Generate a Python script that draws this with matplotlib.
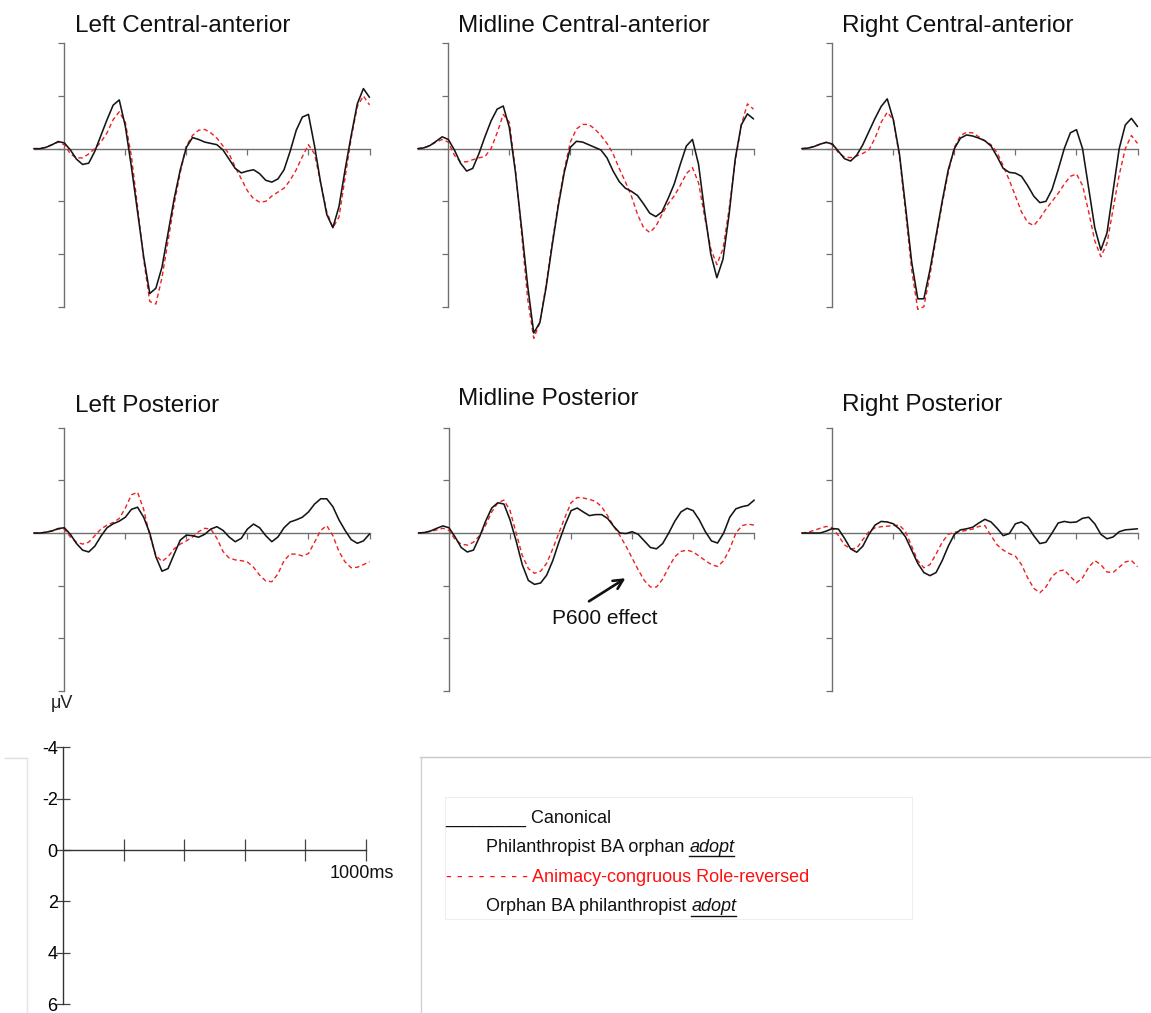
import numpy as np
import matplotlib
matplotlib.use('Agg')
import matplotlib.pyplot as plt
from matplotlib import font_manager
from matplotlib.lines import Line2D
from matplotlib.patches import Rectangle

plt.rcParams['font.family'] = ['Liberation Sans', 'DejaVu Sans']

# ---------------- data (μV, negative plotted upward) ----------------
times = [-100, -80, -60, -40, -20, 0, 20, 40, 60, 80,
         100, 120, 140, 160, 180, 200, 220, 240, 260, 280,
         300, 320, 340, 360, 380, 400, 420, 440, 460, 480,
         500, 520, 540, 560, 580, 600, 620, 640, 660, 680,
         700, 720, 740, 760, 780, 800, 820, 840, 860, 880,
         900, 920, 940, 960, 980, 1000]

lca_canonical = [0, 0, -0.05, -0.15, -0.27, -0.22, 0.05, 0.4, 0.6, 0.55,
                 0.1, -0.5, -1.1, -1.65, -1.85, -0.85, 0.7, 2.4, 4.1, 5.5,
                 5.3, 4.5, 3.2, 1.9, 0.8, -0.05, -0.42, -0.35, -0.25, -0.2,
                 -0.15, 0.05, 0.4, 0.75, 0.92, 0.85, 0.8, 0.95, 1.2, 1.27,
                 1.15, 0.8, 0.1, -0.7, -1.2, -1.3, -0.1, 1.3, 2.5, 3.0,
                 2.2, 0.8, -0.5, -1.7, -2.28, -1.95]
lca_reversed = [0, 0, -0.05, -0.15, -0.25, -0.15, 0.2, 0.35, 0.35, 0.2,
                0.0, -0.25, -0.6, -1.1, -1.4, -1.0, 0.3, 2.2, 4.2, 5.8,
                5.9, 4.9, 3.5, 2.1, 0.9, -0.1, -0.5, -0.7, -0.73, -0.6,
                -0.4, -0.1, 0.2, 0.7, 1.15, 1.6, 1.9, 2.03, 2.0, 1.8,
                1.65, 1.5, 1.2, 0.8, 0.3, -0.15, 0.2, 1.3, 2.4, 3.0,
                2.6, 1.1, -0.4, -1.6, -2.0, -1.66]

mca_canonical = [0, -0.03, -0.12, -0.28, -0.45, -0.35, 0.05, 0.55, 0.85, 0.75,
                 0.2, -0.45, -1.05, -1.5, -1.62, -0.8, 0.9, 3.0, 5.2, 7.0,
                 6.6, 5.3, 3.7, 2.2, 0.9, -0.05, -0.28, -0.25, -0.15, -0.05,
                 0.05, 0.35, 0.85, 1.25, 1.5, 1.62, 1.78, 2.1, 2.45, 2.58,
                 2.4, 1.9, 1.35, 0.6, -0.1, -0.35, 0.6, 2.4, 4.0, 4.9,
                 4.2, 2.5, 0.4, -0.9, -1.32, -1.13]
mca_reversed = [0, -0.03, -0.12, -0.25, -0.35, -0.25, 0.25, 0.5, 0.5, 0.42,
                0.35, 0.3, 0.0, -0.6, -1.3, -1.0, 0.8, 3.2, 5.7, 7.2,
                6.6, 5.2, 3.6, 2.1, 0.8, -0.25, -0.75, -0.92, -0.92, -0.75,
                -0.5, -0.2, 0.2, 0.75, 1.25, 1.8, 2.5, 3.0, 3.18, 2.95,
                2.5, 2.1, 1.8, 1.4, 0.95, 0.72, 1.3, 2.6, 3.8, 4.4,
                3.8, 2.3, 0.5, -0.9, -1.7, -1.5]

rca_canonical = [0, -0.02, -0.08, -0.17, -0.24, -0.18, 0.1, 0.38, 0.47, 0.25,
                 -0.15, -0.65, -1.15, -1.6, -1.89, -1.1, 0.2, 2.2, 4.3, 5.7,
                 5.7, 4.6, 3.3, 2.0, 0.8, 0.0, -0.4, -0.52, -0.48, -0.4,
                 -0.3, -0.1, 0.3, 0.75, 0.9, 0.93, 1.05, 1.4, 1.8, 2.05,
                 2.0, 1.55, 0.8, 0.0, -0.6, -0.72, 0.0, 1.5, 3.0, 3.85,
                 3.2, 1.6, 0.0, -0.9, -1.15, -0.84]
rca_reversed = [0, -0.02, -0.08, -0.17, -0.24, -0.15, 0.15, 0.32, 0.34, 0.28,
                0.18, 0.05, -0.4, -1.0, -1.38, -1.1, 0.3, 2.4, 4.6, 6.1,
                6.0, 4.8, 3.4, 2.1, 0.9, -0.05, -0.5, -0.62, -0.6, -0.45,
                -0.3, -0.15, 0.15, 0.65, 1.2, 1.8, 2.4, 2.8, 2.92, 2.65,
                2.3, 2.0, 1.7, 1.35, 1.05, 0.96, 1.4, 2.4, 3.5, 4.1,
                3.6, 2.3, 1.0, 0.0, -0.5, -0.2]

lp_canonical = [0, 0, -0.03, -0.08, -0.17, -0.2, 0.05, 0.4, 0.65, 0.72,
                0.5, 0.12, -0.2, -0.35, -0.45, -0.6, -0.9, -0.98, -0.6, 0.0,
                0.9, 1.45, 1.35, 0.8, 0.27, 0.08, 0.1, 0.16, 0.05, -0.15,
                -0.24, -0.1, 0.15, 0.33, 0.2, -0.15, -0.34, -0.2, 0.1, 0.33,
                0.15, -0.2, -0.42, -0.5, -0.6, -0.8, -1.1, -1.3, -1.3, -1.0,
                -0.5, -0.1, 0.25, 0.39, 0.3, 0.04]
lp_reversed = [0, 0, -0.03, -0.08, -0.15, -0.15, 0.15, 0.35, 0.42, 0.35,
               0.1, -0.15, -0.3, -0.4, -0.55, -0.95, -1.45, -1.55, -0.9, 0.1,
               0.85, 1.08, 0.9, 0.6, 0.42, 0.3, 0.15, -0.05, -0.18, -0.15,
               0.2, 0.7, 0.95, 1.02, 1.05, 1.1, 1.3, 1.6, 1.82, 1.85,
               1.55, 1.05, 0.8, 0.8, 0.87, 0.78, 0.35, -0.1, -0.28, 0.1,
               0.7, 1.1, 1.32, 1.3, 1.2, 1.09]

mp_canonical = [0, -0.02, -0.08, -0.18, -0.27, -0.2, 0.15, 0.55, 0.72, 0.65,
                0.15, -0.45, -0.95, -1.15, -1.1, -0.5, 0.3, 1.2, 1.8, 1.95,
                1.9, 1.6, 1.05, 0.35, -0.3, -0.85, -0.95, -0.8, -0.66, -0.7,
                -0.7, -0.55, -0.25, 0.0, 0.02, -0.05, 0.05, 0.3, 0.55, 0.6,
                0.4, 0.0, -0.45, -0.8, -0.94, -0.85, -0.5, -0.05, 0.3, 0.38,
                0.0, -0.6, -0.92, -1.0, -1.05, -1.25]
mp_reversed = [0, -0.02, -0.06, -0.12, -0.18, -0.1, 0.25, 0.42, 0.46, 0.35,
               0.1, -0.3, -0.8, -1.15, -1.25, -0.85, 0.0, 0.85, 1.35, 1.53,
               1.45, 1.15, 0.6, 0.0, -0.6, -1.15, -1.35, -1.33, -1.28, -1.2,
               -1.0, -0.65, -0.25, 0.1, 0.5, 0.95, 1.4, 1.8, 2.05, 2.05,
               1.75, 1.3, 0.9, 0.7, 0.65, 0.72, 0.88, 1.05, 1.2, 1.27,
               1.05, 0.6, 0.0, -0.28, -0.34, -0.3]

rp_canonical = [0, 0, 0, 0, -0.07, -0.17, -0.15, 0.2, 0.6, 0.73,
                0.5, 0.05, -0.3, -0.44, -0.42, -0.35, -0.15, 0.15, 0.65, 1.15,
                1.5, 1.62, 1.5, 1.05, 0.5, 0.05, -0.12, -0.16, -0.22, -0.38,
                -0.52, -0.42, -0.18, 0.1, 0.02, -0.35, -0.42, -0.25, 0.1, 0.4,
                0.35, 0.0, -0.38, -0.44, -0.4, -0.42, -0.56, -0.6, -0.35, 0.05,
                0.22, 0.15, -0.05, -0.12, -0.14, -0.16]
rp_reversed = [0, -0.03, -0.1, -0.18, -0.25, -0.2, 0.1, 0.45, 0.6, 0.58,
               0.25, -0.05, -0.2, -0.24, -0.26, -0.28, -0.3, -0.05, 0.5, 1.05,
               1.32, 1.2, 0.8, 0.35, 0.05, -0.03, -0.06, -0.1, -0.15, -0.25,
               -0.28, 0.1, 0.45, 0.65, 0.78, 0.88, 1.2, 1.7, 2.1, 2.27,
               2.05, 1.65, 1.45, 1.4, 1.65, 1.89, 1.7, 1.3, 1.05, 1.2,
               1.48, 1.5, 1.3, 1.1, 1.04, 1.28]

panel_titles = ["Left Central-anterior", "Midline Central-anterior", "Right Central-anterior",
                "Left Posterior", "Midline Posterior", "Right Posterior"]
y_ticks = [-4, -2, 0, 2, 4, 6]
x_ticks = [200, 400, 600, 800, 1000]

# ---------------- layout helpers ----------------
W, H = 1151, 1013
fig = plt.figure(figsize=(W / 100, H / 100), dpi=100)


def ax_px(left, right, top, bottom):
    return fig.add_axes([left / W, 1 - bottom / H, (right - left) / W, (bottom - top) / H])


def ftext(x, y, s, **kw):
    return fig.text(x / W, 1 - y / H, s, **kw)


AXC = '#707070'
BLACK = '#151515'
RED = '#ee2020'

series = [(lca_canonical, lca_reversed), (mca_canonical, mca_reversed), (rca_canonical, rca_reversed),
          (lp_canonical, lp_reversed), (mp_canonical, mp_reversed), (rp_canonical, rp_reversed)]
t0_px = [64.3, 448.3, 832.3, 64.3, 449.0, 832.3]
rows = [(43.3, 306.7), (43.3, 306.7), (43.3, 306.7), (427.7, 691.0), (427.7, 691.0), (427.7, 691.0)]
title_pos = [(75, 32), (457.5, 32), (842, 32), (75, 411.5), (457.5, 405), (842, 411.5)]
PX_PER_MS = 0.3052

axes = []
for i in range(6):
    t0 = t0_px[i]
    top, bot = rows[i]
    ax = ax_px(t0 - 100 * PX_PER_MS, t0 + 1000 * PX_PER_MS, top, bot)
    ax.set_xlim(-100, 1000)
    ax.set_ylim(6, -4)
    ax.patch.set_visible(False)
    for s in ['top', 'right']:
        ax.spines[s].set_visible(False)
    ax.spines['left'].set_position(('data', 0))
    ax.spines['bottom'].set_position(('data', 0))
    for s in ['left', 'bottom']:
        ax.spines[s].set_color(AXC)
        ax.spines[s].set_linewidth(1.0)
    ax.set_xticks(x_ticks)
    ax.set_yticks(y_ticks)
    ax.tick_params(axis='x', direction='out', length=4, width=0.9, color=AXC, labelbottom=False)
    ax.tick_params(axis='y', direction='out', length=4.5, width=0.9, color=AXC, labelleft=False)
    canon, rev = series[i]
    ax.plot(times, rev, color=RED, lw=1.0, ls=(0, (3.2, 2.2)), clip_on=False, zorder=3,
            dash_joinstyle='round', dash_capstyle='butt')
    ax.plot(times, canon, color=BLACK, lw=1.15, clip_on=False, zorder=4,
            solid_joinstyle='round', solid_capstyle='round')
    tx, ty = title_pos[i]
    ftext(tx, ty, panel_titles[i], fontsize=17.5, va='baseline', ha='left', color='#111111')
    axes.append(ax)

# P600 annotation in Midline Posterior
axes[4].annotate('', xy=(586, 1.66), xytext=(451, 2.65),
                 arrowprops=dict(arrowstyle='->', lw=1.9, color='#111111', mutation_scale=17),
                 annotation_clip=False)
ftext(605, 624, 'P600 effect', fontsize=15, ha='center', va='baseline', color='#111111')

# μV label
ftext(62, 703, 'μV', fontsize=13, ha='center', va='center', color='#222222')

# ---------------- scale axis ----------------
sax = ax_px(63.3, 365.7, 747.3, 1004.3)
sax.set_xlim(0, 1000)
sax.set_ylim(6, -4)
sax.patch.set_visible(False)
for s in ['top', 'right']:
    sax.spines[s].set_visible(False)
sax.spines['bottom'].set_position(('data', 0))
for s in ['left', 'bottom']:
    sax.spines[s].set_color('#333333')
    sax.spines[s].set_linewidth(1.0)
sax.set_xticks(x_ticks)
sax.set_xticklabels([])
sax.set_yticks(y_ticks)
sax.set_yticklabels([str(v) for v in y_ticks], fontsize=13)
sax.tick_params(axis='x', direction='inout', length=16, width=0.9, color='#444444')
sax.tick_params(axis='y', direction='inout', length=10, width=0.9, color='#444444', pad=-1)
ftext(362, 878, '1000ms', fontsize=13, ha='center', va='baseline', color='#111111')

# ---------------- frame lines ----------------
fig.add_artist(Line2D([420 / W, 1.0], [1 - 757.3 / H] * 2, transform=fig.transFigure, color='#c8c8c8', lw=1.0))
fig.add_artist(Line2D([421 / W] * 2, [1 - 757.3 / H, 0], transform=fig.transFigure, color='#d0d0d0', lw=1.0))
fig.add_artist(Line2D([5 / W, 27 / W], [1 - 757.7 / H] * 2, transform=fig.transFigure, color='#dcdcdc', lw=1.0))
fig.add_artist(Line2D([27 / W] * 2, [1 - 757.7 / H, 0], transform=fig.transFigure, color='#e4e4e4', lw=1.0))

# ---------------- legend ----------------
fig.add_artist(Rectangle((445 / W, 1 - 919.3 / H), (912 - 445) / W, (919.3 - 796.7) / H,
                         transform=fig.transFigure, fill=False, edgecolor='#eeeeee', lw=0.8))


def has_font(name):
    try:
        font_manager.findfont(font_manager.FontProperties(family=name), fallback_to_default=False)
        return True
    except Exception:
        return False


if has_font('Liberation Sans Narrow'):
    LEG_FAM = ['Liberation Sans Narrow', 'DejaVu Sans']
    LEG_SIZE = 15.3
else:
    LEG_FAM = ['Liberation Sans', 'DejaVu Sans']
    LEG_SIZE = 13.0

legend_line1 = "________ Canonical"
legend_line2 = "Philanthropist BA orphan "
legend_line3 = "- - - - - - - - Animacy-congruous Role-reversed"
legend_line4 = "Orphan BA philanthropist "
legend_verb = "adopt"

ftext(445, 822.7, legend_line1, family=LEG_FAM, fontsize=LEG_SIZE, va='baseline', color='#111111')
ftext(446, 881.7, legend_line3, family=LEG_FAM, fontsize=LEG_SIZE, va='baseline', color='#ff1010')

renderer = fig.canvas.get_renderer()
for txt, base in [(legend_line2, 851.7), (legend_line4, 911.0)]:
    t1 = ftext(486, base, txt, family=LEG_FAM, fontsize=LEG_SIZE, va='baseline', color='#111111')
    bb = t1.get_window_extent(renderer)
    t2 = fig.text(bb.x1 / W, 1 - base / H, legend_verb, family=LEG_FAM, fontsize=LEG_SIZE,
                  style='italic', va='baseline', color='#111111')
    bb2 = t2.get_window_extent(renderer)
    uy = 1 - (base + 4.5) / H
    fig.add_artist(Line2D([bb2.x0 / W, bb2.x1 / W], [uy, uy], transform=fig.transFigure,
                          color='#111111', lw=1.0))

fig.savefig('out.png', dpi=100)
